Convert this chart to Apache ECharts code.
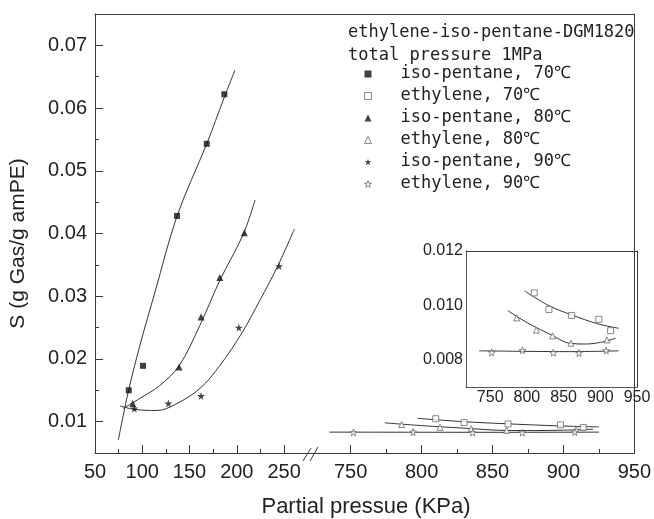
<!DOCTYPE html>
<html>
<head>
<meta charset="utf-8">
<script src="https://cdn.jsdelivr.net/npm/echarts@6/dist/echarts.min.js"></script>
<style>html,body{margin:0;padding:0;background:#fff}#c{width:654px;height:519px}</style>
</head>
<body>
<div id="c"></div>
<script>
// ---- data ----
const isoX70 = [85.7, 100.8, 136.8, 168.2, 186.8];
const isoY70 = [0.0150, 0.0189, 0.0428, 0.0543, 0.0622];
const isoX80 = [89.9, 138.9, 162.2, 182.0, 208.0];
const isoY80 = [0.0129, 0.0187, 0.0267, 0.0330, 0.0401];
const isoX90 = [91.6, 127.6, 162.2, 202.1, 244.7];
const isoY90 = [0.0121, 0.0129, 0.0141, 0.0250, 0.0348];

const ethX70 = [810, 830, 861, 898, 914];
const ethY70 = [0.01046, 0.00985, 0.00963, 0.00949, 0.00907];
const ethX80 = [786, 813, 835, 860, 909];
const ethY80 = [0.00954, 0.00909, 0.00888, 0.00861, 0.00873];
const ethX90 = [752, 794, 836, 871, 908];
const ethY90 = [0.00827, 0.00835, 0.00826, 0.00825, 0.00834];

// fitted curves
const fitIso70X = [74.7, 84.9, 97.6, 113.5, 136.8, 168.5, 186.5, 198.1];
const fitIso70Y = [0.00707, 0.01457, 0.02222, 0.03067, 0.04279, 0.05443, 0.06161, 0.06607];
const fitIso80X = [80.0, 97.6, 118.0, 138.9, 161.1, 182.3, 206.9, 219.3];
const fitIso80Y = [0.01213, 0.01372, 0.0157, 0.0189, 0.0254, 0.0326, 0.0399, 0.04534];
const fitIso90X = [76.5, 92.3, 115.6, 134.7, 161.1, 182.3, 205.2, 224.6, 242.9, 260.9];
const fitIso90Y = [0.0125, 0.01194, 0.01178, 0.01273, 0.0153, 0.0190, 0.0241, 0.0294, 0.0347, 0.0407];
const fitEth70X = [797, 830, 860, 897, 925];
const fitEth70Y = [0.01053, 0.00999, 0.00966, 0.00932, 0.00916];
const fitEth80X = [774, 800, 830, 860, 880, 900, 921];
const fitEth80Y = [0.00981, 0.00937, 0.00896, 0.0086, 0.00858, 0.00864, 0.00879];
const fitEth90X = [735, 800, 860, 925];
const fitEth90Y = [0.00833, 0.00831, 0.0083, 0.00833];

// tick labels
const leftXTicks = [50, 100, 150, 200, 250];
const leftXMinor = [75, 125, 175, 225];
const rightXTicks = [750, 800, 850, 900, 950];
const rightXMinor = [775, 825, 875, 925];
const yTicks = [0.01, 0.02, 0.03, 0.04, 0.05, 0.06, 0.07];
const yMinor = [0.015, 0.025, 0.035, 0.045, 0.055, 0.065];
const insetXTicks = [750, 800, 850, 900, 950];
const insetYTicks = [0.008, 0.010, 0.012];

const names = ['iso-pentane, 70\u2103', 'ethylene, 70\u2103', 'iso-pentane, 80\u2103',
               'ethylene, 80\u2103', 'iso-pentane, 90\u2103', 'ethylene, 90\u2103'];
const headerText = 'ethylene-iso-pentane-DGM1820\ntotal pressure 1MPa';
const xName = 'Partial pressue (KPa)';
const yName = 'S (g Gas/g amPE)';

// ---- helpers ----
const zip = (xs, ys) => xs.map((x, i) => [x, ys[i]]);
const STAR = 'path://M50,0 L61,35 L98,35 L68,57 L79,91 L50,70 L21,91 L32,57 L2,35 L39,35 Z';
const AX = '#3a3a3a';
const TXT = '#222';
const SANS = "'Liberation Sans', Arial, sans-serif";
const MONO = "'DejaVu Sans Mono', monospace";

const lineAxis = (grid, pos, min, max) => ({
  gridIndex: grid, type: 'value', position: pos, min: min, max: max,
  axisLine: { show: true, onZero: false, lineStyle: { color: AX, width: 1 } },
  axisTick: { show: false }, axisLabel: { show: false }, splitLine: { show: false }
});
const tickAxis = (grid, pos, min, max, ticks, len) => ({
  gridIndex: grid, type: 'value', position: pos, min: min, max: max,
  axisLine: { show: false, onZero: false },
  axisTick: { show: true, inside: true, length: len, customValues: ticks, lineStyle: { color: AX } },
  axisLabel: { show: false }, splitLine: { show: false }
});

const filled = { color: '#111' };
const open = { color: '#fff', borderColor: '#6a6a6a', borderWidth: 1 };
const symbols = ['rect', 'rect', 'triangle', 'triangle', STAR, STAR];
const styles = [filled, open, filled, open, filled, open];

function scatter(name, data, xi, yi, symbol, size, style) {
  return { type: 'scatter', name: name, data: data, xAxisIndex: xi, yAxisIndex: yi,
           symbol: symbol, symbolSize: size, itemStyle: style, z: 3, silent: true };
}
function curve(data, xi, yi) {
  return { type: 'line', name: 'fit', data: data, xAxisIndex: xi, yAxisIndex: yi,
           smooth: 0.35, symbol: 'none', lineStyle: { color: '#333', width: 1 }, z: 2, silent: true };
}

const LMIN = 50, LMAX = 279, RMIN = 722.4, RMAX = 950, YMIN = 0.005, YMAX = 0.075;
const IXMIN = 717, IXMAX = 950, IYMIN = 0.007, IYMAX = 0.012;

const chart = echarts.init(document.getElementById('c'), null, { renderer: 'canvas' });
chart.setOption({
  animation: false,
  backgroundColor: '#fff',
  title: [
    { text: headerText, left: 348, top: 21, padding: 0,
      textStyle: { fontFamily: MONO, fontSize: 17, fontWeight: 'normal', lineHeight: 23, color: TXT } },
    { text: xName, left: 366, top: 496, padding: 0, textAlign: 'center',
      textStyle: { fontFamily: SANS, fontSize: 22, fontWeight: 'normal', color: TXT } }
  ],
  legend: {
    data: names.map((n, i) => ({ name: n, icon: symbols[i], itemStyle: styles[i] })),
    orient: 'vertical', left: 364, top: 63, padding: 0,
    itemWidth: 7, itemHeight: 7, itemGap: 0, selectedMode: false,
    textStyle: { fontFamily: MONO, fontSize: 17, lineHeight: 22, color: TXT, padding: [0, 0, 0, 24] }
  },
  grid: [
    { left: 95, top: 14, width: 216.5, height: 439 },
    { left: 311.5, top: 14, width: 325.5, height: 439 },
    { left: 466, top: 251, width: 171, height: 136 }
  ],
  xAxis: [
    { gridIndex: 0, type: 'value', position: 'bottom', min: LMIN, max: LMAX,
      axisLine: { show: true, onZero: false, lineStyle: { color: AX } },
      axisTick: { show: true, inside: true, length: 8, customValues: leftXTicks, lineStyle: { color: AX } },
      axisLabel: { customValues: leftXTicks, fontFamily: SANS, fontSize: 20, color: TXT, margin: 9 },
      splitLine: { show: false } },
    tickAxis(0, 'bottom', LMIN, LMAX, leftXMinor, 4),
    lineAxis(0, 'top', LMIN, LMAX),
    { gridIndex: 1, type: 'value', position: 'bottom', min: RMIN, max: RMAX,
      axisLine: { show: true, onZero: false, lineStyle: { color: AX } },
      axisTick: { show: true, inside: true, length: 8, customValues: rightXTicks, lineStyle: { color: AX } },
      axisLabel: { customValues: rightXTicks, fontFamily: SANS, fontSize: 20, color: TXT, margin: 9 },
      splitLine: { show: false } },
    tickAxis(1, 'bottom', RMIN, RMAX, rightXMinor, 4),
    lineAxis(1, 'top', RMIN, RMAX),
    { gridIndex: 2, type: 'value', position: 'bottom', min: IXMIN, max: IXMAX,
      axisLine: { show: true, onZero: false, lineStyle: { color: '#555' } },
      axisTick: { show: false },
      axisLabel: { customValues: insetXTicks, fontFamily: SANS, fontSize: 16, color: TXT, margin: 3 },
      splitLine: { show: false } },
    lineAxis(2, 'top', IXMIN, IXMAX)
  ],
  yAxis: [
    { gridIndex: 0, type: 'value', position: 'left', min: YMIN, max: YMAX,
      name: yName, nameLocation: 'middle', nameGap: 66, nameRotate: 90,
      nameTextStyle: { fontFamily: SANS, fontSize: 21, color: TXT, padding: [0, 20, 0, 0] },
      axisLine: { show: true, onZero: false, lineStyle: { color: AX } },
      axisTick: { show: true, inside: true, length: 8, customValues: yTicks, lineStyle: { color: AX } },
      axisLabel: { customValues: yTicks, fontFamily: SANS, fontSize: 20, color: TXT, margin: 8 },
      splitLine: { show: false } },
    tickAxis(0, 'left', YMIN, YMAX, yMinor, 4),
    lineAxis(1, 'right', YMIN, YMAX),
    { gridIndex: 2, type: 'value', position: 'left', min: IYMIN, max: IYMAX,
      axisLine: { show: true, onZero: false, lineStyle: { color: '#555' } },
      axisTick: { show: false },
      axisLabel: { customValues: insetYTicks, formatter: v => v.toFixed(3),
                   fontFamily: SANS, fontSize: 16, color: TXT, margin: 3 },
      splitLine: { show: false } },
    lineAxis(2, 'right', IYMIN, IYMAX)
  ],
  series: [
    // left segment: iso-pentane
    scatter(names[0], zip(isoX70, isoY70), 0, 0, 'rect', 6, filled),
    scatter(names[2], zip(isoX80, isoY80), 0, 0, 'triangle', 7, filled),
    scatter(names[4], zip(isoX90, isoY90), 0, 0, STAR, 8, filled),
    curve(zip(fitIso70X, fitIso70Y), 0, 0),
    curve(zip(fitIso80X, fitIso80Y), 0, 0),
    curve(zip(fitIso90X, fitIso90Y), 0, 0),
    // right segment: ethylene
    scatter(names[1], zip(ethX70, ethY70), 3, 2, 'rect', 6, open),
    scatter(names[3], zip(ethX80, ethY80), 3, 2, 'triangle', 6, open),
    scatter(names[5], zip(ethX90, ethY90), 3, 2, STAR, 7, open),
    curve(zip(fitEth70X, fitEth70Y), 3, 2),
    curve(zip(fitEth80X, fitEth80Y), 3, 2),
    curve(zip(fitEth90X, fitEth90Y), 3, 2),
    // inset: ethylene enlarged
    scatter(names[1], zip(ethX70, ethY70), 6, 3, 'rect', 6, open),
    scatter(names[3], zip(ethX80, ethY80), 6, 3, 'triangle', 6, open),
    scatter(names[5], zip(ethX90, ethY90), 6, 3, STAR, 7, open),
    curve(zip(fitEth70X, fitEth70Y), 6, 3),
    curve(zip(fitEth80X, fitEth80Y), 6, 3),
    curve(zip(fitEth90X, fitEth90Y), 6, 3)
  ],
  graphic: [
    // axis-break marks "//"
    { type: 'line', shape: { x1: 303, y1: 461, x2: 311, y2: 448 }, style: { stroke: AX, lineWidth: 1 }, z: 10 },
    { type: 'line', shape: { x1: 310, y1: 461, x2: 318, y2: 447 }, style: { stroke: AX, lineWidth: 1 }, z: 10 }
  ]
});
</script>
</body>
</html>
